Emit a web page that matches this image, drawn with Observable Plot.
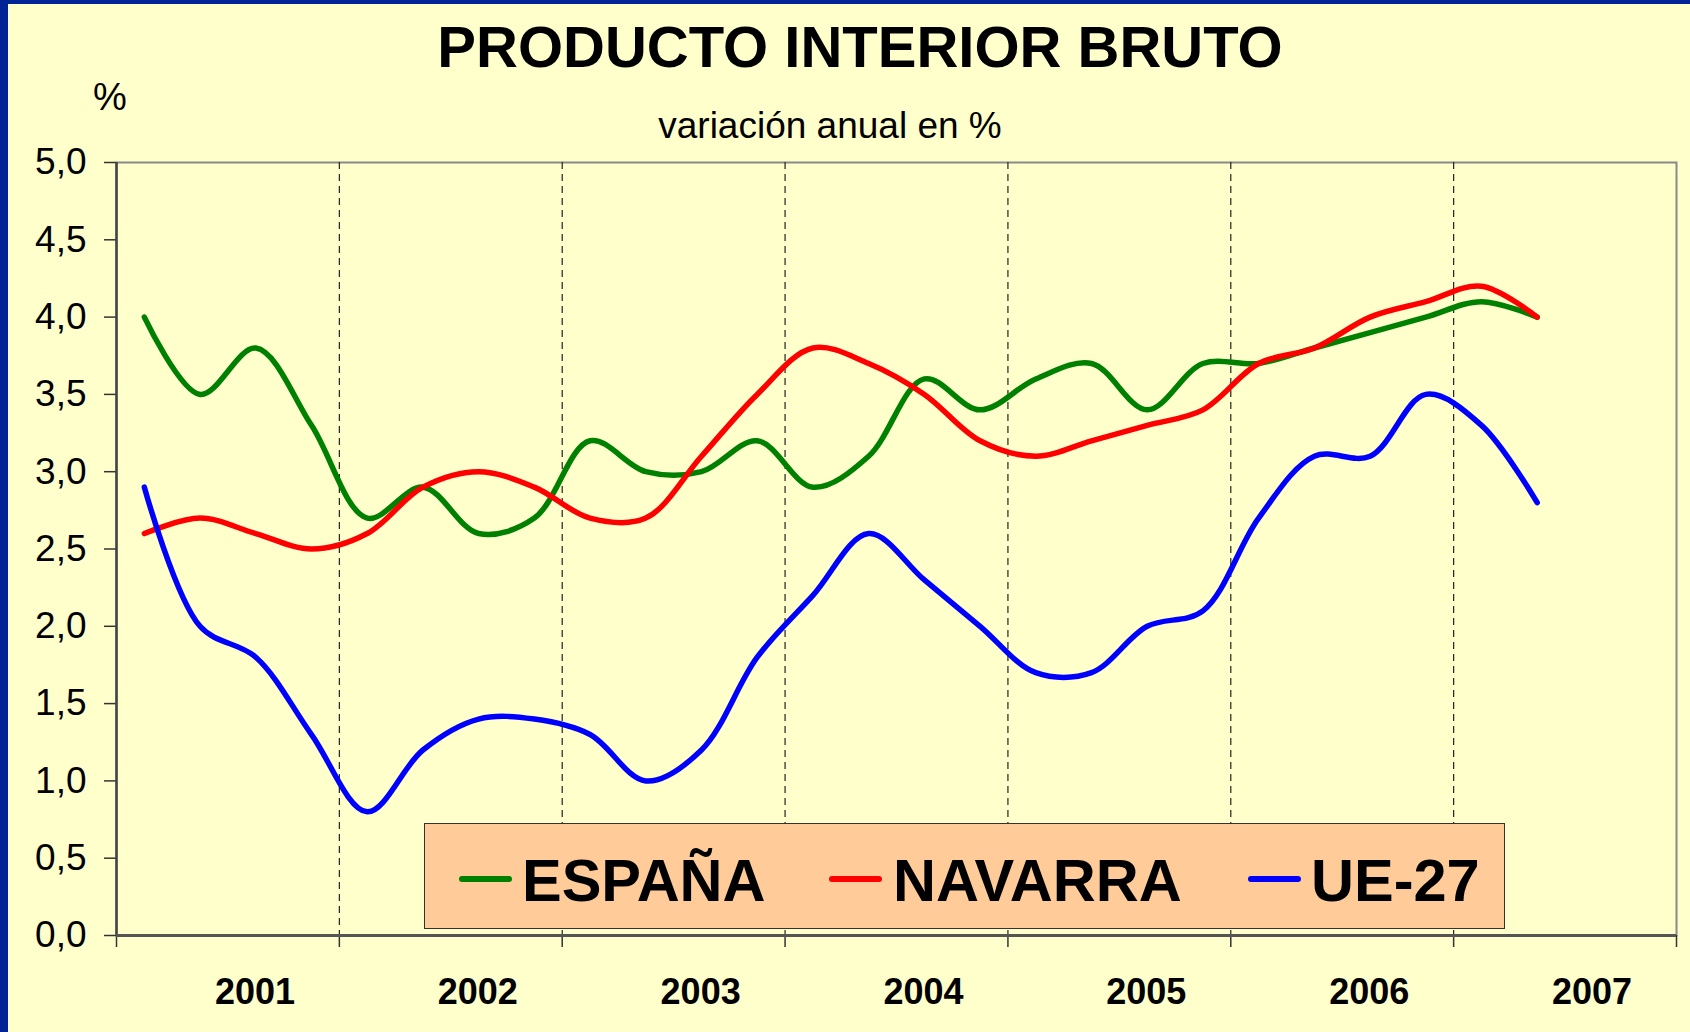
<!DOCTYPE html>
<html>
<head>
<meta charset="utf-8">
<script src="https://cdn.jsdelivr.net/npm/d3@7"></script>
<script src="https://cdn.jsdelivr.net/npm/@observablehq/plot@0.6"></script>
<style>
  html, body { margin: 0; padding: 0; }
  body { width: 1690px; height: 1032px; overflow: hidden; background: #FFFFCC; font-family: "Liberation Sans", Arial, sans-serif; }
  #page { position: relative; width: 1690px; height: 1032px; background: #FFFFCC; }
  #bl { position: absolute; left: 0; top: 0; width: 8px; height: 1032px; background: #002395; }
  #bt { position: absolute; left: 0; top: 0; width: 1690px; height: 4px; background: #002395; }
  .t { position: absolute; white-space: nowrap; line-height: 1; color: #000; }
  #title { left: 860px; top: 18px; transform: translateX(-50%); font-size: 58px; font-weight: bold; }
  #sub { left: 830px; top: 107px; transform: translateX(-50%); font-size: 37px; }
  #pct { left: 93px; top: 78px; font-size: 38px; }
  #chart { position: absolute; left: 0; top: 0; }
  #legend { position: absolute; left: 424px; top: 823px; width: 1079px; height: 104px; background: #FFCC99; border: 1px solid #333; }
  .sw { position: absolute; top: 52px; width: 53px; height: 6px; border-radius: 3px; }
  .lt { position: absolute; top: 27px; font-size: 59.5px; font-weight: bold; line-height: 59.5px; white-space: nowrap; color: #000; }
</style>
</head>
<body>
<div id="page">
  <div id="chart"></div>
  <div id="bl"></div><div id="bt"></div>
  <div class="t" id="title">PRODUCTO INTERIOR BRUTO</div>
  <div class="t" id="sub">variación anual en %</div>
  <div class="t" id="pct">%</div>
  <div id="legend"></div>
</div>
<script>
// Quarterly periods (2001 T1 .. 2007 T2)
const periods = ["2001-T1","2001-T2","2001-T3","2001-T4","2002-T1","2002-T2","2002-T3","2002-T4",
  "2003-T1","2003-T2","2003-T3","2003-T4","2004-T1","2004-T2","2004-T3","2004-T4",
  "2005-T1","2005-T2","2005-T3","2005-T4","2006-T1","2006-T2","2006-T3","2006-T4",
  "2007-T1","2007-T2"];
const years = ["2001","2002","2003","2004","2005","2006","2007"];
const seriesNames = ["ESPAÑA","NAVARRA","UE-27"];
const seriesColors = ["#008000","#FF0000","#0000FF"];
const espana  = [4.0,3.5,3.8,3.3,2.7,2.9,2.6,2.7,3.2,3.0,3.0,3.2,2.9,3.1,3.6,3.4,3.6,3.7,3.4,3.7,3.7,3.8,3.9,4.0,4.1,4.0];
const navarra = [2.6,2.7,2.6,2.5,2.6,2.9,3.0,2.9,2.7,2.7,3.1,3.5,3.8,3.7,3.5,3.2,3.1,3.2,3.3,3.4,3.7,3.8,4.0,4.1,4.2,4.0];
const ue27    = [2.9,2.0,1.8,1.3,0.8,1.2,1.4,1.4,1.3,1.0,1.2,1.8,2.2,2.6,2.3,2.0,1.7,1.7,2.0,2.1,2.7,3.1,3.1,3.5,3.3,2.8];
const yTicks = [0,0.5,1,1.5,2,2.5,3,3.5,4,4.5,5];

const seriesValues = [espana, navarra, ue27];
const data = [];
seriesValues.forEach((vals, s) => vals.forEach((v, i) => data.push({serie: seriesNames[s], q: i + 0.5, v, periodo: periods[i]})));

const nQ = years.length * 4;
const boundaries = years.map((y, i) => i * 4).concat([nQ]);
const inner = boundaries.slice(1, -1);
const centers = years.map((y, i) => i * 4 + 2);

const fmt = d => d.toFixed(1).replace(".", ",");

const chart = Plot.plot({
  width: 1690, height: 1032,
  marginLeft: 116, marginRight: 14, marginTop: 162, marginBottom: 97,
  style: {background: "transparent", fontFamily: "'Liberation Sans', Arial, sans-serif", color: "#000", overflow: "visible"},
  x: {domain: [0, nQ], axis: null},
  y: {domain: [0, 5], axis: null},
  marks: [
    Plot.frame({stroke: "#8a8a8a", strokeWidth: 2}),
    Plot.ruleX(inner, {stroke: "#222", strokeWidth: 1.2, strokeDasharray: "7,5"}),
    Plot.axisY({ticks: yTicks, tickSize: 12, tickPadding: 18, tickFormat: fmt, fontSize: 37, stroke: "#333", strokeWidth: 1.5, label: null}),
    Plot.axisX({ticks: boundaries, tickSize: 12, tickFormat: () => "", stroke: "#333", strokeWidth: 1.5, label: null}),
    Plot.axisX({ticks: centers, tickSize: 0, tickPadding: 43, dx: 27, tickFormat: d => years[Math.round((d - 2) / 4)], fontSize: 36, fontWeight: "bold", label: null}),
    Plot.ruleX([0], {stroke: "#444", strokeWidth: 2.5}),
    Plot.ruleY([0], {stroke: "#555", strokeWidth: 3}),
    Plot.lineY(data, {x: "q", y: "v", z: "serie", stroke: "serie", strokeWidth: 5.5, curve: "catmull-rom", strokeLinecap: "round", strokeLinejoin: "round"})
  ],
  color: {domain: seriesNames, range: seriesColors}
});
document.getElementById("chart").appendChild(chart);

// Legend
const legend = document.getElementById("legend");
const swLeft = [34, 404, 823];
const txLeft = [97, 468, 886];
seriesNames.forEach((n, i) => {
  const sw = document.createElement("div");
  sw.className = "sw"; sw.style.left = swLeft[i] + "px"; sw.style.background = seriesColors[i];
  legend.appendChild(sw);
  const tx = document.createElement("div");
  tx.className = "lt"; tx.style.left = txLeft[i] + "px"; tx.textContent = n;
  legend.appendChild(tx);
});
</script>
</body>
</html>
